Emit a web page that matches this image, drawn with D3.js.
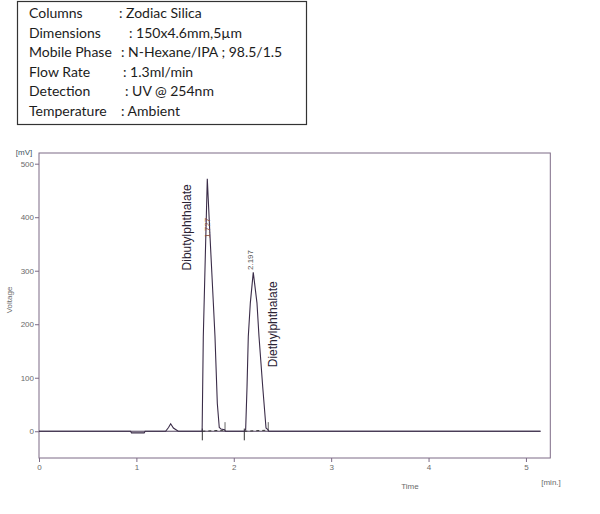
<!DOCTYPE html>
<html>
<head>
<meta charset="utf-8">
<script src="https://cdn.jsdelivr.net/npm/d3@7"></script>
<style>
  body { margin: 0; background: #fff; }
  svg { display: block; }
</style>
</head>
<body>
<div id="chromatogram"></div>
<script>
// method conditions shown in the box
const conditionNames = ['Columns', 'Dimensions', 'Mobile Phase', 'Flow Rate', 'Detection', 'Temperature']
const conditionValues = [': Zodiac Silica', ': 150x4.6mm,5\u00b5m', ': N-Hexane/IPA ; 98.5/1.5', ': 1.3ml/min', ':  UV @ 254nm', ': Ambient']

// detector trace (min / mV)
const traceTime = [0, 0.94, 0.95, 1.08, 1.09, 1.30, 1.33, 1.352, 1.38, 1.43,
  1.675, 1.687, 1.708, 1.728, 1.756, 1.79, 1.807, 1.831, 1.851, 1.87, 1.905, 1.915,
  2.108, 2.122, 2.136, 2.149, 2.170, 2.200, 2.238, 2.259, 2.297, 2.331, 2.35, 2.36, 5.15]
const traceMv = [0, 0, -3, -3, 0, 0, 7, 14, 6, 0,
  0, 177, 330, 472, 364, 240, 177, 52, 7, 4, 3, 0,
  0, 3, 83, 177, 240, 297, 240, 177, 83, 6, 3, 0, 0]

// integrated peaks
const peakNames = ['Dibutylphthalate', 'Diethylphthalate']
const peakRetention = ['1.727', '2.197']
const peakStart = [1.677, 2.108]
const peakEnd = [1.91, 2.354]

const xTicks = [0, 1, 2, 3, 4, 5]
const yTicks = [0, 100, 200, 300, 400, 500]

const W = 600, H = 514
const svg = d3.select('#chromatogram').append('svg')
  .attr('width', W).attr('height', H)

// conditions box
const box = svg.append('g')
box.append('rect')
  .attr('x', 17.5).attr('y', 1.5).attr('width', 289).attr('height', 123)
  .attr('fill', '#fff').attr('stroke', '#333').attr('stroke-width', 1.2)

const valueX = [119, 129, 121, 123, 125, 121]
conditionNames.forEach((n, i) => {
  const y = 18 + i * 19.6
  box.append('text').attr('x', 29).attr('y', y).text(n)
  box.append('text').attr('x', valueX[i]).attr('y', y).text(conditionValues[i])
})
box.selectAll('text')
  .attr('font-family', 'Lato, sans-serif')
  .attr('font-size', 14)
  .attr('fill', '#1c1c1c')

// plot
const x = d3.scaleLinear().domain([0, 5.25]).range([39, 550.3])
const y = d3.scaleLinear().domain([-50, 520]).range([458, 153])

const frameColor = '#7d6b86'
const textColor = '#6a6a6a'
const fontAxis = 'Liberation Sans, Arial, sans-serif'

svg.append('rect')
  .attr('x', x(0)).attr('y', y(520))
  .attr('width', x(5.25) - x(0)).attr('height', y(-50) - y(520))
  .attr('fill', 'none').attr('stroke', frameColor).attr('stroke-width', 1)

// y axis
const yAxis = svg.append('g')
  .attr('transform', `translate(${x(0)},0)`)
  .call(d3.axisLeft(y).tickValues(yTicks).tickSize(4).tickPadding(1))
yAxis.select('.domain').remove()
yAxis.selectAll('line').attr('stroke', frameColor)
yAxis.selectAll('text')
  .attr('font-family', fontAxis).attr('font-size', 8).attr('fill', textColor)

// x axis
const xAxis = svg.append('g')
  .attr('transform', `translate(0,${y(-50)})`)
  .call(d3.axisBottom(x).tickValues(xTicks).tickFormat(d3.format('d')).tickSize(4).tickPadding(2))
xAxis.select('.domain').remove()
xAxis.selectAll('line').attr('stroke', frameColor)
xAxis.selectAll('text')
  .attr('font-family', fontAxis).attr('font-size', 8).attr('fill', textColor)

svg.append('text').attr('x', 24).attr('y', 155)
  .attr('text-anchor', 'middle')
  .attr('font-family', fontAxis).attr('font-size', 8).attr('fill', '#3d5560')
  .text('[mV]')
svg.append('text')
  .attr('transform', 'translate(12,300) rotate(-90)')
  .attr('text-anchor', 'middle')
  .attr('font-family', fontAxis).attr('font-size', 8).attr('fill', textColor)
  .text('Voltage')
svg.append('text').attr('x', 410).attr('y', 489)
  .attr('text-anchor', 'middle')
  .attr('font-family', fontAxis).attr('font-size', 8).attr('fill', textColor)
  .text('Time')
svg.append('text').attr('x', 551).attr('y', 485)
  .attr('text-anchor', 'middle')
  .attr('font-family', fontAxis).attr('font-size', 8).attr('fill', textColor)
  .text('[min.]')

// zero line
svg.append('line')
  .attr('x1', x(0)).attr('x2', x(5.15))
  .attr('y1', y(0)).attr('y2', y(0))
  .attr('stroke', '#4e3f5c').attr('stroke-width', 1)

// integration baselines and markers
peakStart.forEach((s, i) => {
  const e = peakEnd[i]
  svg.append('line')
    .attr('x1', x(s)).attr('x2', x(e))
    .attr('y1', y(0)).attr('y2', y(2))
    .attr('stroke', '#333').attr('stroke-dasharray', '3,3')
  svg.append('line')
    .attr('x1', x(s)).attr('x2', x(s))
    .attr('y1', y(5)).attr('y2', y(-17))
    .attr('stroke', '#333')
  svg.append('line')
    .attr('x1', x(e)).attr('x2', x(e))
    .attr('y1', y(0)).attr('y2', y(17))
    .attr('stroke', '#666')
})

// trace
const line = d3.line()
  .x((d, i) => x(traceTime[i]))
  .y((d) => y(d))
svg.append('path')
  .datum(traceMv)
  .attr('d', line)
  .attr('fill', 'none')
  .attr('stroke', '#3a2c48')
  .attr('stroke-width', 1.1)

// peak labels
const rtOffsets = [380, 320]
peakRetention.forEach((rt, i) => {
  const px = x(+rt)
  svg.append('text')
    .attr('transform', `translate(${px + (i === 0 ? 3 : 0)},${y(rtOffsets[i])}) rotate(-90)`)
    .attr('text-anchor', 'middle')
    .attr('font-family', fontAxis).attr('font-size', 8)
    .attr('fill', i === 0 ? '#8a4a3a' : '#555')
    .text(rt)
})
const nameDx = [-16, 24]
const nameMv = [381, 200]
peakNames.forEach((n, i) => {
  svg.append('text')
    .attr('transform', `translate(${x(+peakRetention[i]) + nameDx[i]},${y(nameMv[i])}) rotate(-90)`)
    .attr('text-anchor', 'middle')
    .attr('font-family', fontAxis).attr('font-size', 12)
    .attr('fill', '#2a2233')
    .text(n)
})
</script>
</body>
</html>
